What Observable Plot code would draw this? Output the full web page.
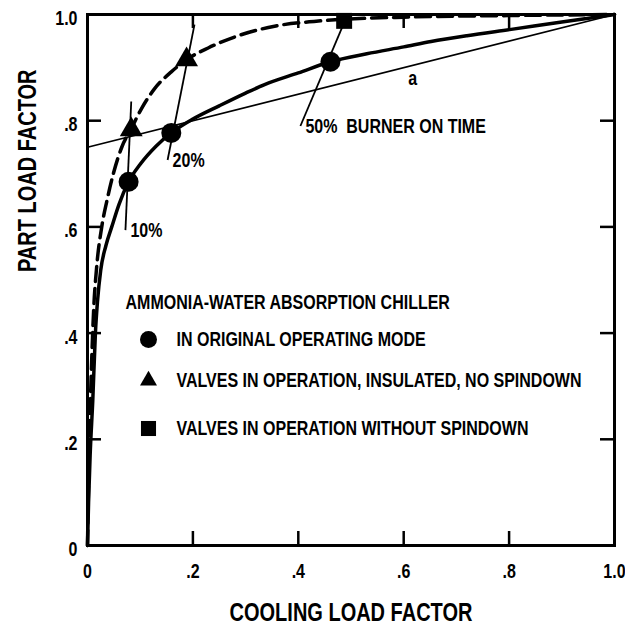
<!DOCTYPE html>
<html>
<head>
<meta charset="utf-8">
<script src="https://cdn.jsdelivr.net/npm/d3@7"></script>
<script src="https://cdn.jsdelivr.net/npm/@observablehq/plot@0.6"></script>
<style>
  html, body { margin: 0; padding: 0; background: white; }
  #chart svg, #chart svg text {
    font-family: 'Liberation Sans', Arial, sans-serif !important;
    font-weight: bold;
  }
</style>
</head>
<body>
<div id="chart"></div>
<script>
// ---- Data ----
// Original operating mode (solid curve)
const originalCLF = [0, 0.002, 0.005, 0.01, 0.015, 0.019, 0.025, 0.035, 0.046, 0.06, 0.078, 0.1, 0.13, 0.159, 0.2, 0.25, 0.3, 0.336, 0.4, 0.461, 0.53, 0.6, 0.652, 0.72, 0.804, 0.9, 1.0];
const originalPLF = [0, 0.08, 0.17, 0.273, 0.4, 0.46, 0.518, 0.565, 0.6, 0.643, 0.685, 0.718, 0.752, 0.777, 0.803, 0.828, 0.852, 0.868, 0.89, 0.911, 0.926, 0.939, 0.949, 0.96, 0.972, 0.986, 1.0];
// Valves in operation, insulated, no spindown (dashed curve)
const insulatedCLF = [0, 0.002, 0.005, 0.008, 0.012, 0.017, 0.027, 0.037, 0.049, 0.065, 0.083, 0.102, 0.127, 0.159, 0.188, 0.229, 0.286, 0.355, 0.43, 0.487, 0.6, 0.8, 1.0];
const insulatedPLF = [0, 0.12, 0.25, 0.35, 0.45, 0.52, 0.6, 0.65, 0.7, 0.75, 0.785, 0.822, 0.86, 0.892, 0.915, 0.937, 0.96, 0.978, 0.987, 0.991, 0.995, 0.998, 1.0];
// Straight reference line "a"
const lineA_CLF = [0, 1.0];
const lineA_PLF = [0.75, 1.0];
// Markers
const circleCLF = [0.078, 0.159, 0.461];
const circlePLF = [0.685, 0.777, 0.911];
const triangleCLF = [0.083, 0.188];
const trianglePLF = [0.783, 0.915];
const squareCLF = [0.487];
const squarePLF = [0.988];
// Burner-on-time lines
const burnerLabels = ["10%", "20%", "50%  BURNER ON TIME"];
const burnerCLF1 = [0.072, 0.152, 0.404];
const burnerPLF1 = [0.594, 0.726, 0.79];
const burnerCLF2 = [0.083, 0.203, 0.491];
const burnerPLF2 = [0.836, 0.981, 0.994];
// Label "a"
const aLabelCLF = [0.617];
const aLabelPLF = [0.88];
// Axes
const xTickValues = [0, 0.2, 0.4, 0.6, 0.8, 1.0];
const xTickLabels = ["0", ".2", ".4", ".6", ".8", "1.0"];
const yTickValues = [0, 0.2, 0.4, 0.6, 0.8, 1.0];
const yTickLabels = ["0", ".2", ".4", ".6", ".8", "1.0"];
const innerTicks = [0.2, 0.4, 0.6, 0.8];
const xTitle = "COOLING LOAD FACTOR";
const yTitle = "PART LOAD FACTOR";
// Legend
const legendTitle = "AMMONIA-WATER ABSORPTION CHILLER";
const legendLabels = ["IN ORIGINAL OPERATING MODE", "VALVES IN OPERATION, INSULATED, NO SPINDOWN", "VALVES IN OPERATION WITHOUT SPINDOWN"];
const legendSymbols = ["circle", "triangle", "square"];

// ---- Build tables ----
const original = originalCLF.map((x, i) => ({x, y: originalPLF[i]}));
const insulated = insulatedCLF.map((x, i) => ({x, y: insulatedPLF[i]}));
const lineA = lineA_CLF.map((x, i) => ({x, y: lineA_PLF[i]}));
const circles = circleCLF.map((x, i) => ({x, y: circlePLF[i]}));
const triangles = triangleCLF.map((x, i) => ({x, y: trianglePLF[i]}));
const squares = squareCLF.map((x, i) => ({x, y: squarePLF[i]}));
const burners = burnerLabels.map((label, i) => ({label, x1: burnerCLF1[i], y1: burnerPLF1[i], x2: burnerCLF2[i], y2: burnerPLF2[i]}));
const aLabel = aLabelCLF.map((x, i) => ({x, y: aLabelPLF[i], label: "a"}));

// ---- Layout ----
const W = 625, H = 628;
const mL = 87, mR = 11, mT = 14, mB = 83;
const frameW = W - mL - mR, frameH = H - mT - mB;
const tickLen = 14;
const xFmt = d => xTickLabels[xTickValues.indexOf(d)];
const yFmt = d => yTickLabels[yTickValues.indexOf(d)];

const legendRowDy = [325, 366, 414];
const legendR = [8.5, 6.3, 8.5];
const fs = 20;
const narrow = 0.8; // horizontal condensing of the bold sans, to mimic a narrow typeface

const legendMarks = legendLabels.flatMap((label, i) => [
  Plot.dot([label], {frameAnchor: "top-left", dx: 61, dy: legendRowDy[i], symbol: legendSymbols[i], r: legendR[i], fill: "black", stroke: "none"}),
  Plot.text([label], {frameAnchor: "top-left", dx: 89, dy: legendRowDy[i], text: d => d, textAnchor: "start", lineAnchor: "middle", fontSize: fs, fontWeight: "bold", fill: "black"})
]);

const chart = Plot.plot({
  width: W, height: H,
  marginLeft: mL, marginRight: mR, marginTop: mT, marginBottom: mB,
  x: {domain: [0, 1], axis: null},
  y: {domain: [0, 1], axis: null},
  style: {background: "white", color: "black", overflow: "visible"},
  marks: [
    // inward ticks on all four sides
    Plot.ruleX(innerTicks, {x: d => d, insetTop: frameH - tickLen, stroke: "black", strokeWidth: 2.5}),
    Plot.ruleX(innerTicks, {x: d => d, insetBottom: frameH - tickLen, stroke: "black", strokeWidth: 2.5}),
    Plot.ruleY(innerTicks, {y: d => d, insetRight: frameW - tickLen, stroke: "black", strokeWidth: 2.5}),
    Plot.ruleY(innerTicks, {y: d => d, insetLeft: frameW - tickLen, stroke: "black", strokeWidth: 2.5}),
    // tick labels
    Plot.axisX(xTickValues, {anchor: "bottom", tickSize: 0, tickPadding: 18, tickFormat: xFmt, fontSize: 20, fontWeight: "bold", fill: "black"}),
    Plot.axisY(yTickValues, {anchor: "left", tickSize: 0, tickPadding: 10, tickFormat: yFmt, fontSize: 20, fontWeight: "bold", fill: "black", dy: 4}),
    // axis titles
    Plot.text([xTitle], {frameAnchor: "bottom", dy: 67, text: d => d, lineAnchor: "middle", fontSize: 25, fontWeight: "bold", fill: "black"}),
    Plot.text([yTitle], {frameAnchor: "left", dx: -60, dy: -8, rotate: -90, text: d => d, lineAnchor: "middle", fontSize: 25, fontWeight: "bold", fill: "black"}),
    // reference line a
    Plot.line(lineA, {x: "x", y: "y", stroke: "black", strokeWidth: 1.8}),
    Plot.text(aLabel, {x: "x", y: "y", text: "label", fontSize: fs, fontWeight: "bold", fill: "black", lineAnchor: "middle"}),
    // burner-on-time lines
    Plot.link(burners, {x1: "x1", y1: "y1", x2: "x2", y2: "y2", stroke: "black", strokeWidth: 1.8}),
    Plot.text(burners, {x: "x1", y: "y1", text: "label", textAnchor: "start", lineAnchor: "middle", dx: 5, dy: 1, fontSize: fs, fontWeight: "bold", fill: "black"}),
    // curves
    Plot.line(insulated, {x: "x", y: "y", curve: "monotone-x", stroke: "black", strokeWidth: 3.5, strokeDasharray: "15,7"}),
    Plot.line(original, {x: "x", y: "y", curve: "monotone-x", stroke: "black", strokeWidth: 3.5}),
    // markers
    Plot.dot(circles, {x: "x", y: "y", r: 10, fill: "black", stroke: "none"}),
    Plot.dot(triangles, {x: "x", y: "y", symbol: "triangle", r: 8.5, fill: "black", stroke: "none"}),
    Plot.dot(squares, {x: "x", y: "y", symbol: "square", r: 9, fill: "black", stroke: "none"}),
    // legend
    Plot.text([legendTitle], {frameAnchor: "top-left", dx: 38, dy: 288, text: d => d, textAnchor: "start", lineAnchor: "middle", fontSize: fs, fontWeight: "bold", fill: "black"}),
    ...legendMarks,
    // frame
    Plot.frame({stroke: "black", strokeWidth: 3})
  ]
});

// condense every label horizontally about its own anchor point
chart.querySelectorAll("text").forEach(t => {
  const x0 = parseFloat(t.getAttribute("x")) || 0;
  const tr = t.getAttribute("transform") || "";
  t.setAttribute("transform", `${tr} translate(${x0},0) scale(${narrow},1) translate(${-x0},0)`.trim());
});

document.getElementById("chart").appendChild(chart);
</script>
</body>
</html>
